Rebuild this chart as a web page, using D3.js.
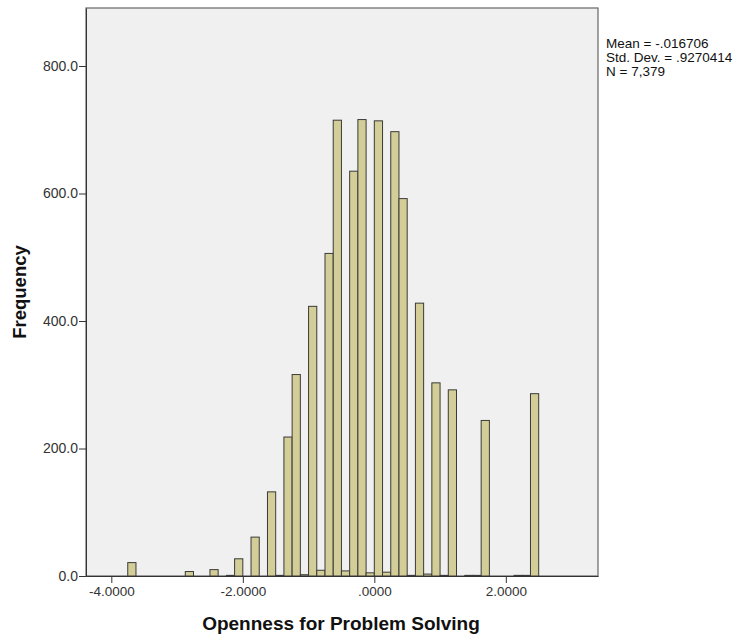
<!DOCTYPE html>
<html>
<head>
<meta charset="utf-8">
<script src="https://cdn.jsdelivr.net/npm/d3@7"></script>
<style>
  body { margin: 0; background: #fff; }
  text { font-family: Arial, "Liberation Sans", sans-serif; }
</style>
</head>
<body>
<svg id="chart"></svg>
<script>
// bin lower edges (width .125) and counts
const binLower = [-3.750, -3.625, -3.500, -3.375, -3.250, -3.125, -3.000, -2.875, -2.750, -2.625,
  -2.500, -2.375, -2.250, -2.125, -2.000, -1.875, -1.750, -1.625, -1.500, -1.375,
  -1.250, -1.125, -1.000, -0.875, -0.750, -0.625, -0.500, -0.375, -0.250, -0.125,
  0.000, 0.125, 0.250, 0.375, 0.500, 0.625, 0.750, 0.875, 1.000, 1.125,
  1.250, 1.375, 1.500, 1.625, 1.750, 1.875, 2.000, 2.125, 2.250, 2.375];
const binWidth = 0.125;
const frequency = [21, 0, 0, 0, 0, 0, 0, 7, 0, 0,
  10, 0, 1, 27, 0, 61, 0, 132, 1, 218,
  316, 2, 423, 9, 506, 715, 8, 635, 716, 5,
  714, 6, 697, 592, 1, 428, 3, 303, 1, 292,
  0, 1, 1, 244, 0, 0, 0, 1, 1, 286];
const xTicks = [-4, -2, 0, 2];
const xTickLabels = ["-4.0000", "-2.0000", ".0000", "2.0000"];
const yTicks = [0, 200, 400, 600, 800];
const statLines = ["Mean = -.016706", "Std. Dev. = .9270414", "N = 7,379"];

const W = 737, H = 635;
const plot = {left: 86, top: 8, right: 598, bottom: 576};

const svg = d3.select('#chart').attr('width', W).attr('height', H);

const x = d3.scaleLinear()
    .domain([-4.385, 3.402])
    .range([plot.left, plot.right]);
const y = d3.scaleLinear()
    .domain([0, 891])
    .range([plot.bottom, plot.top]);

// plot background
svg.append('rect')
    .attr('x', plot.left).attr('y', plot.top)
    .attr('width', plot.right - plot.left)
    .attr('height', plot.bottom - plot.top)
    .attr('fill', '#f0f0f0')
    .attr('stroke', '#666')
    .attr('stroke-width', 1.2);

// bars
const bins = binLower.map((b, i) => ({x0: b, x1: b + binWidth, n: frequency[i]}))
    .filter(d => d.n > 0);
svg.selectAll('rect.bar')
    .data(bins)
    .enter()
    .append('rect')
    .attr('class', 'bar')
    .attr('x', d => x(d.x0))
    .attr('y', d => y(d.n))
    .attr('width', d => x(d.x1) - x(d.x0))
    .attr('height', d => y(0) - y(d.n))
    .attr('fill', '#d3ce97')
    .attr('stroke', '#3a3a3a')
    .attr('stroke-width', 1);

// Y axis
const yAxis = svg.append('g')
    .attr('transform', 'translate(' + plot.left + ',0)')
    .call(d3.axisLeft(y).tickValues(yTicks).tickFormat(d3.format('.1f')).tickSize(7).tickSizeOuter(0));
yAxis.select('.domain').attr('stroke', '#333');
yAxis.selectAll('line').attr('stroke', '#333');
yAxis.selectAll('text').attr('fill', '#333').style('font-size', '14px').attr('x', -8);

// X axis
const xAxis = svg.append('g')
    .attr('transform', 'translate(0,' + plot.bottom + ')')
    .call(d3.axisBottom(x).tickValues(xTicks)
        .tickFormat((d, i) => xTickLabels[i]).tickSize(7).tickSizeOuter(0));
xAxis.select('.domain').attr('stroke', '#333');
xAxis.selectAll('line').attr('stroke', '#333');
xAxis.selectAll('text').attr('fill', '#333').style('font-size', '13.5px').attr('y', 10);

// axis titles
svg.append('text')
    .attr('transform', 'translate(26,' + (plot.top + plot.bottom) / 2 + ') rotate(-90)')
    .attr('text-anchor', 'middle')
    .style('font-size', '18.5px')
    .style('font-weight', 'bold')
    .attr('fill', '#111')
    .text('Frequency');

svg.append('text')
    .attr('x', 341)
    .attr('y', 630)
    .attr('text-anchor', 'middle')
    .style('font-size', '19px')
    .style('font-weight', 'bold')
    .attr('fill', '#111')
    .text('Openness for Problem Solving');

// stats box text
svg.selectAll('text.stat')
    .data(statLines)
    .enter()
    .append('text')
    .attr('class', 'stat')
    .attr('x', 606)
    .attr('y', (d, i) => 48 + i * 14)
    .style('font-size', '13.5px')
    .attr('fill', '#111')
    .text(d => d);
</script>
</body>
</html>
